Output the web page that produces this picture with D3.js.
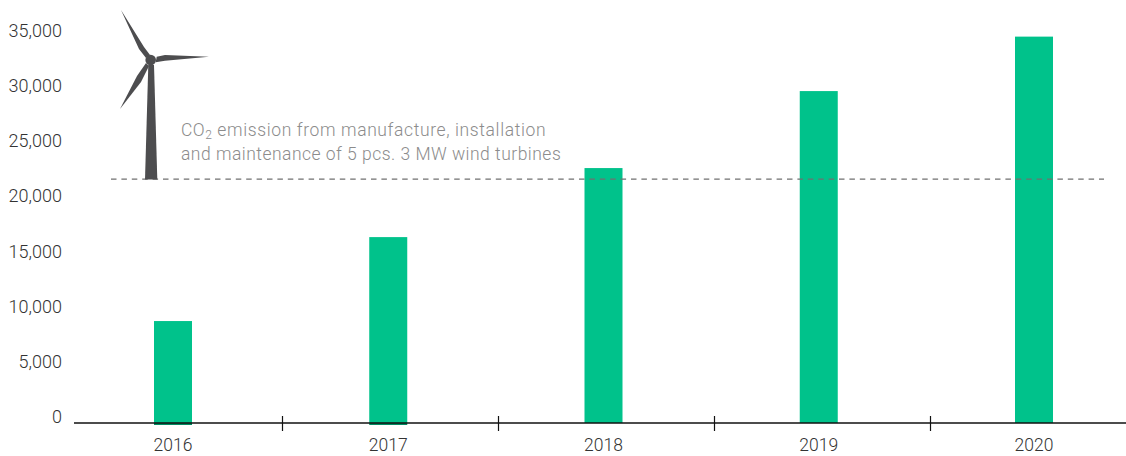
<!DOCTYPE html>
<html>
<head>
<meta charset="utf-8">
<script src="https://cdnjs.cloudflare.com/ajax/libs/d3/7.8.5/d3.min.js"></script>
<style>
  html, body { margin: 0; padding: 0; background: #fff; }
  svg { display: block; }
  text { font-family: Roboto, sans-serif; font-weight: 300; }
</style>
</head>
<body>
<svg id="chart" width="1126" height="456"></svg>
<script>
var years = ["2016", "2017", "2018", "2019", "2020"];
var emissions = [9230, 16830, 23080, 30050, 34980];
var yTicks = [0, 5000, 10000, 15000, 20000, 25000, 30000, 35000];
var turbineLevel = 22080;
var noteLines = ["emission from manufacture, installation", "and maintenance of 5 pcs. 3 MW wind turbines"];

var svg = d3.select("#chart");

var y = d3.scaleLinear().domain([0, 35000]).range([423, 36.4]);
var x = d3.scalePoint().domain(years).range([173, 1034]);
// separators sit between the years, spaced a little wider than the bars
var band = d3.scaleBand().domain(years).range([66.5, 1146.5]);

// bars
svg.selectAll(".bar")
    .data(emissions)
    .enter()
    .append("rect")
    .attr("class", "bar")
    .attr("fill", "#00c28b")
    .attr("x", (d, i) => x(years[i]) - 19)
    .attr("width", 38)
    .attr("y", d => y(d))
    .attr("height", d => y(0) - y(d));

// first two bars run slightly past the axis in the original
svg.selectAll(".foot")
    .data(years.slice(0, 2))
    .enter()
    .append("rect")
    .attr("class", "foot")
    .attr("fill", "#008a62")
    .attr("x", d => x(d) - 19)
    .attr("width", 38)
    .attr("y", y(0))
    .attr("height", 2);

// y axis labels, no line
svg.selectAll(".ylabel")
    .data(yTicks)
    .enter()
    .append("text")
    .attr("class", "ylabel")
    .attr("x", 62)
    .attr("y", d => y(d) - 6)
    .attr("dy", "0.35em")
    .attr("text-anchor", "end")
    .attr("font-size", 18)
    .attr("fill", "#333")
    .text(d3.format(","));

// x axis
svg.append("line")
    .attr("x1", 74).attr("x2", 1126)
    .attr("y1", y(0)).attr("y2", y(0))
    .attr("stroke", "#111").attr("stroke-width", 1.3);

svg.selectAll(".sep")
    .data(years.slice(1))
    .enter()
    .append("line")
    .attr("class", "sep")
    .attr("x1", d => band(d)).attr("x2", d => band(d))
    .attr("y1", y(0) - 7).attr("y2", y(0) + 8)
    .attr("stroke", "#111").attr("stroke-width", 1.2);

svg.selectAll(".xlabel")
    .data(years)
    .enter()
    .append("text")
    .attr("class", "xlabel")
    .attr("x", d => x(d))
    .attr("y", 451)
    .attr("text-anchor", "middle")
    .attr("font-size", 17.5)
    .attr("fill", "#333")
    .text(d => d);

// dashed level line
svg.append("line")
    .attr("x1", 111).attr("x2", 1104)
    .attr("y1", y(turbineLevel)).attr("y2", y(turbineLevel))
    .attr("stroke", "#707070").attr("stroke-width", 1.2)
    .attr("stroke-dasharray", "5.5,4.9");

// turbine icon
var turbine = svg.append("g").attr("fill", "#4d4d4f");
turbine.append("path").attr("d", "M148.3,65 L154,65 L157.3,179.5 L145,179.5 Z");
turbine.append("path").attr("d", "M121,10 L144,47 L150,55 L146,58 L139,49 Z");
turbine.append("path").attr("d", "M209,56.7 L165,55 L156.7,56.7 L155.7,62.3 L165,60.7 Z");
turbine.append("path").attr("d", "M120,109 L141,82 L149,66 L146,63 L137,76 Z");
turbine.append("circle").attr("cx", 150.7).attr("cy", 60).attr("r", 5.3);

// note
var note = svg.append("g").attr("fill", "#8c8c8c").attr("font-size", 17.5).attr("letter-spacing", 0.48);
var first = note.append("text").attr("x", 181).attr("y", 136);
first.append("tspan").text("CO");
first.append("tspan").attr("font-size", 12).attr("dy", 3).text("2");
first.append("tspan").attr("dy", -3).attr("dx", 5).attr("letter-spacing", 0.62).text(noteLines[0]);
note.append("text").attr("x", 181).attr("y", 160).text(noteLines[1]);
</script>
</body>
</html>
